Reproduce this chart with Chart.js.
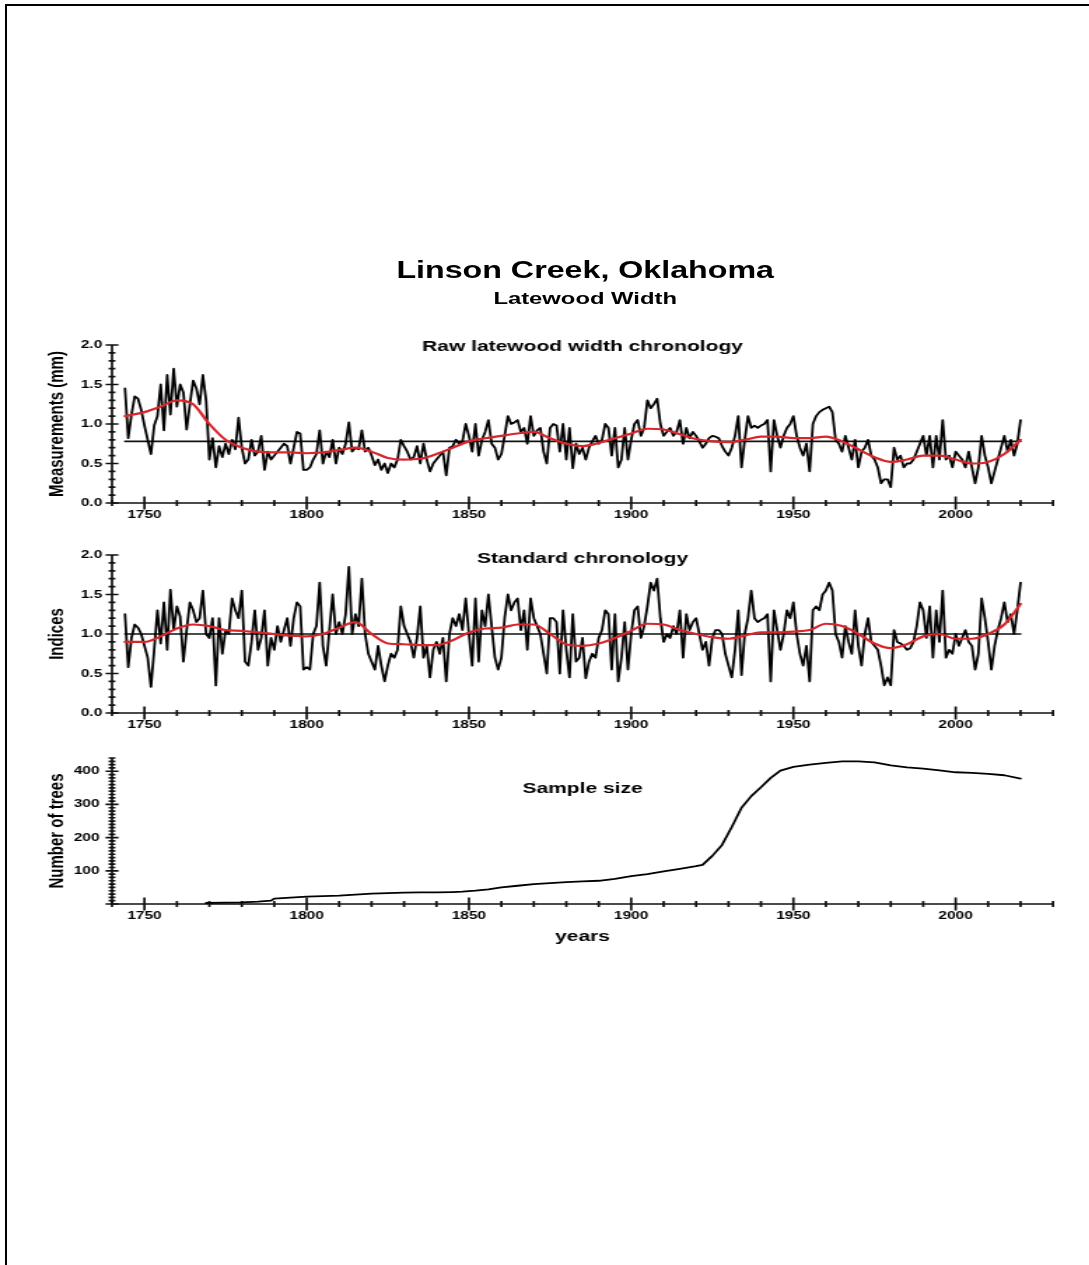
<!DOCTYPE html>
<html>
<head>
<meta charset="utf-8">
<title>Linson Creek, Oklahoma – Latewood Width</title>
<script src="https://cdn.jsdelivr.net/npm/chart.js@4.4.1/dist/chart.umd.min.js"></script>
<style>
  html, body { margin: 0; padding: 0; background: #fff; width: 1089px; height: 1265px; overflow: hidden; }
  #frame { position: absolute; left: 5px; top: 4px; width: 1100px; height: 1300px;
           border-top: 2px solid #000; border-left: 2px solid #000; }
  /* the figure is laid out on a narrower sheet and widened horizontally */
  #stage { position: absolute; left: 0; top: 0; width: 778px; height: 1265px;
           transform: scaleX(1.4); transform-origin: 0 0;
           font-family: "Liberation Sans", Arial, Helvetica, sans-serif; color: #000; }
  .title { position: absolute; left: 0; width: 836px; text-align: center; font-weight: bold; white-space: nowrap; }
  #t1 { top: 259px; font-size: 23px; line-height: 23px; }
  #t2 { top: 290px; font-size: 17px; line-height: 17px; }
  canvas { position: absolute; left: 0; }
</style>
</head>
<body>
<div id="frame"></div>
<div id="stage">
  <div class="title" id="t1">Linson Creek, Oklahoma</div>
  <div class="title" id="t2">Latewood Width</div>
  <canvas id="rawChart" width="778" height="213" style="top:320px"></canvas>
  <canvas id="stdChart" width="778" height="213" style="top:530px"></canvas>
  <canvas id="sampleChart" width="778" height="221" style="top:733px"></canvas>
</div>
<script>
// ---- data -------------------------------------------------------------
const FIRST_YEAR = 1744;            // first ring of the chronology
const X_MIN = 1740, X_MAX = 2030;   // year axis extent

// raw latewood width, mm, one value per year from 1744 to 2020
const rawWidth = [
  1.45, 0.82, 1.12, 1.35, 1.32, 1.18,
  0.98, 0.80, 0.62, 0.98, 1.10, 1.50, 0.92, 1.62, 1.12, 1.70,
  1.22, 1.50, 1.40, 0.93, 1.25, 1.55, 1.45, 1.25, 1.62, 1.30,
  0.55, 0.82, 0.45, 0.72, 0.58, 0.75, 0.62, 0.80, 0.68, 1.08,
  0.70, 0.50, 0.55, 0.80, 0.60, 0.65, 0.85, 0.42, 0.65, 0.55,
  0.60, 0.65, 0.70, 0.75, 0.72, 0.50, 0.70, 0.90, 0.88, 0.42,
  0.42, 0.45, 0.55, 0.62, 0.92, 0.50, 0.65, 0.58, 0.80, 0.50,
  0.70, 0.62, 0.75, 1.02, 0.65, 0.70, 0.68, 0.92, 0.65, 0.70,
  0.60, 0.48, 0.55, 0.42, 0.50, 0.38, 0.50, 0.45, 0.55, 0.80,
  0.72, 0.65, 0.55, 0.58, 0.72, 0.50, 0.75, 0.55, 0.40, 0.50,
  0.55, 0.60, 0.65, 0.35, 0.70, 0.72, 0.80, 0.75, 0.78, 1.00,
  0.85, 0.65, 1.00, 0.60, 0.80, 0.90, 1.05, 0.75, 0.70, 0.55,
  0.62, 0.85, 1.10, 1.00, 1.02, 1.05, 0.90, 0.95, 0.75, 1.10,
  0.85, 0.92, 0.95, 0.65, 0.50, 0.95, 1.00, 0.98, 0.65, 1.00,
  0.55, 0.95, 0.44, 0.75, 0.62, 0.70, 0.55, 0.70, 0.78, 0.85,
  0.75, 0.80, 1.00, 0.95, 0.60, 0.95, 0.45, 0.55, 0.95, 0.55,
  0.80, 1.00, 1.05, 0.85, 0.95, 1.30, 1.20, 1.25, 1.32, 1.00,
  0.85, 0.90, 0.95, 0.85, 0.90, 1.05, 0.75, 0.95, 0.82, 0.90,
  0.85, 0.78, 0.70, 0.75, 0.82, 0.85, 0.84, 0.82, 0.72, 0.65,
  0.60, 0.70, 0.85, 1.10, 0.45, 0.80, 1.10, 0.95, 0.98, 0.95,
  0.98, 1.00, 1.05, 0.40, 1.05, 0.85, 0.70, 0.85, 0.95, 1.00,
  1.10, 0.85, 0.70, 0.60, 0.75, 0.40, 1.00, 1.10, 1.15, 1.18,
  1.20, 1.22, 1.15, 0.80, 0.75, 0.65, 0.85, 0.70, 0.55, 0.80,
  0.45, 0.65, 0.70, 0.80, 0.60, 0.55, 0.45, 0.25, 0.30, 0.30,
  0.20, 0.70, 0.55, 0.60, 0.45, 0.50, 0.50, 0.55, 0.65, 0.75,
  0.85, 0.60, 0.85, 0.45, 0.85, 0.55, 1.05, 0.55, 0.60, 0.45,
  0.65, 0.60, 0.55, 0.45, 0.65, 0.45, 0.25, 0.45, 0.85, 0.60,
  0.45, 0.25, 0.40, 0.55, 0.70, 0.85, 0.65, 0.80, 0.60, 0.75,
  1.05
];
const rawMean = 0.78;

// standard chronology indices, one value per year from 1744 to 2020
const stdIndex = [
  1.25, 0.58, 0.95, 1.12, 1.08, 1.00,
  0.85, 0.70, 0.33, 0.80, 1.30, 0.88, 1.40, 0.80, 1.56, 1.05,
  1.35, 1.22, 0.65, 1.05, 1.40, 1.30, 1.15, 1.20, 1.55, 1.00,
  0.95, 1.20, 0.35, 1.20, 0.75, 1.05, 1.00, 1.45, 1.30, 1.20,
  1.55, 0.65, 0.60, 0.90, 1.30, 0.80, 0.95, 1.30, 0.60, 0.95,
  0.80, 1.10, 0.90, 1.05, 1.20, 0.85, 1.20, 1.40, 1.35, 0.55,
  0.58, 0.55, 1.00, 1.10, 1.65, 0.85, 0.60, 1.05, 1.50, 1.00,
  1.15, 1.00, 1.25, 1.85, 1.00, 1.25, 1.10, 1.70, 1.00, 0.75,
  0.65, 0.55, 0.85, 0.60, 0.40, 0.60, 0.75, 0.70, 0.80, 1.35,
  1.10, 1.00, 0.90, 0.70, 0.95, 1.35, 0.70, 0.85, 0.45, 0.80,
  0.90, 0.75, 0.95, 0.40, 1.00, 1.20, 1.10, 1.25, 1.05, 1.45,
  1.00, 0.60, 1.45, 0.65, 1.30, 1.10, 1.50, 1.10, 0.70, 0.55,
  0.70, 1.20, 1.50, 1.30, 1.40, 1.45, 1.05, 1.30, 0.80, 1.45,
  1.20, 1.10, 1.00, 0.75, 0.50, 1.20, 1.20, 1.15, 0.50, 1.30,
  0.80, 0.45, 1.25, 0.65, 0.70, 0.95, 0.44, 0.65, 0.75, 0.70,
  0.95, 1.05, 1.30, 1.25, 0.55, 1.25, 0.40, 0.70, 1.15, 0.55,
  1.00, 1.30, 1.35, 0.95, 1.10, 1.35, 1.65, 1.55, 1.70, 1.20,
  0.90, 1.00, 0.95, 1.10, 1.00, 1.30, 0.70, 1.25, 1.05, 1.15,
  1.20, 1.00, 0.80, 0.90, 0.60, 0.95, 1.05, 1.05, 1.00, 0.75,
  0.60, 0.45, 0.80, 1.30, 0.48, 1.00, 1.20, 1.55, 1.20, 1.15,
  1.18, 1.20, 1.25, 0.40, 1.30, 1.05, 0.80, 1.00, 1.30, 1.20,
  1.40, 1.00, 0.75, 0.60, 0.85, 0.40, 1.30, 1.35, 1.30, 1.50,
  1.55, 1.65, 1.55, 1.00, 0.90, 0.70, 1.10, 0.90, 0.75, 1.30,
  0.85, 0.60, 1.00, 1.20, 0.90, 0.85, 0.80, 0.60, 0.35, 0.45,
  0.35, 1.05, 0.90, 0.88, 0.85, 0.80, 0.82, 0.90, 1.10, 1.40,
  1.30, 0.95, 1.35, 0.70, 1.30, 0.90, 1.55, 0.70, 0.80, 0.75,
  1.00, 0.85, 0.95, 1.05, 0.90, 0.85, 0.55, 0.75, 1.45, 1.20,
  0.90, 0.55, 0.85, 1.05, 1.20, 1.40, 1.15, 1.25, 1.00, 1.30,
  1.65
];
const stdMean = 1.0;

// smoothing spline of both chronologies, read at five-year knots
const splineYears = [
  1744, 1750, 1755, 1760, 1765, 1770, 1775, 1780, 1785, 1790, 1795,
  1800, 1805, 1810, 1815, 1820, 1825, 1830, 1835, 1840, 1845,
  1850, 1855, 1860, 1865, 1870, 1875, 1880, 1885, 1890, 1895,
  1900, 1905, 1910, 1915, 1920, 1925, 1930, 1935, 1940, 1945,
  1950, 1955, 1960, 1965, 1970, 1975, 1980, 1985, 1990, 1995,
  2000, 2005, 2010, 2015, 2020
];
const rawSpline = [
  1.10, 1.15, 1.22, 1.30, 1.25, 1.00, 0.80, 0.70, 0.65, 0.64, 0.64,
  0.63, 0.64, 0.67, 0.70, 0.65, 0.57, 0.55, 0.56, 0.62, 0.70,
  0.78, 0.82, 0.85, 0.88, 0.90, 0.82, 0.75, 0.72, 0.76, 0.82,
  0.88, 0.94, 0.93, 0.87, 0.81, 0.78, 0.77, 0.80, 0.84, 0.84,
  0.82, 0.82, 0.84, 0.78, 0.68, 0.58, 0.52, 0.55, 0.60, 0.60,
  0.55, 0.50, 0.52, 0.62, 0.80
];
const stdSpline = [
  0.90, 0.90, 0.97, 1.07, 1.12, 1.10, 1.05, 1.04, 1.02, 1.00, 0.98,
  0.97, 1.00, 1.08, 1.15, 1.00, 0.88, 0.87, 0.86, 0.86, 0.92,
  1.02, 1.07, 1.08, 1.12, 1.12, 1.00, 0.87, 0.85, 0.88, 0.95,
  1.04, 1.13, 1.12, 1.05, 1.00, 0.96, 0.94, 0.98, 1.02, 1.02,
  1.03, 1.05, 1.13, 1.10, 1.00, 0.88, 0.82, 0.87, 0.97, 1.00,
  0.94, 0.94, 1.00, 1.12, 1.38
];

// number of trees in the chronology
const sampleYears = [
  1769, 1775, 1780, 1785, 1789, 1790, 1795, 1800, 1805, 1810,
  1815, 1820, 1825, 1830, 1835, 1840, 1845, 1848, 1852, 1856,
  1860, 1865, 1870, 1875, 1880, 1885, 1890, 1895, 1900, 1905,
  1910, 1915, 1920, 1922, 1925, 1928, 1931, 1934, 1937, 1940,
  1943, 1946, 1950, 1955, 1960, 1965, 1970, 1975, 1980, 1985,
  1990, 1995, 2000, 2005, 2010, 2015, 2020
];
const sampleTrees = [
  3, 4, 5, 7, 10, 16, 19, 22, 24, 25,
  28, 31, 33, 34, 35, 35, 36, 37, 40, 44,
  50, 55, 60, 63, 66, 68, 70, 76, 84, 90,
  98, 106, 114, 118, 145, 178, 232, 290, 325, 352,
  380, 402, 413, 420, 425, 430, 430, 427, 418, 412,
  408, 403, 397, 395, 392, 388, 378
];

// ---- drawing ----------------------------------------------------------
const FONT = '"Liberation Sans", Arial, Helvetica, sans-serif';
Chart.defaults.font.family = FONT;
Chart.defaults.color = '#000';

const LAST_YEAR = FIRST_YEAR + rawWidth.length - 1;
const yearly = arr => arr.map((v, i) => ({ x: FIRST_YEAR + i, y: v }));
const paired = (xs, ys) => xs.map((x, i) => ({ x, y: ys[i] }));
const flat = v => [{ x: FIRST_YEAR, y: v }, { x: LAST_YEAR, y: v }];

// axis lines with ticks crossing them, major ticks longer
const crossTicks = {
  id: 'crossTicks',
  beforeDatasetsDraw(chart, args, opts) {
    const { ctx, chartArea: a, scales: { x, y } } = chart;
    ctx.save();
    ctx.strokeStyle = '#111';
    ctx.lineWidth = 1.7;
    ctx.beginPath();
    ctx.moveTo(a.left, a.top);
    ctx.lineTo(a.left, a.bottom);
    ctx.lineTo(a.right, a.bottom);
    ctx.stroke();
    ctx.beginPath();
    x.ticks.forEach(t => {
      const px = x.getPixelForValue(t.value);
      const h = t.value % opts.xMajor === 0 ? 6.5 : 3;
      ctx.moveTo(px, a.bottom - h);
      ctx.lineTo(px, a.bottom + h);
    });
    y.ticks.forEach(t => {
      const py = y.getPixelForValue(t.value);
      const q = t.value / opts.yMajor;
      const w = Math.abs(q - Math.round(q)) < 1e-6 ? 4.6 : 2.4;
      ctx.moveTo(a.left - w, py);
      ctx.lineTo(a.left + w, py);
    });
    ctx.stroke();
    ctx.restore();
  }
};

// caption written inside the top of each plot area
const panelTitle = {
  id: 'panelTitle',
  afterDatasetsDraw(chart, args, opts) {
    if (!opts.text) return;
    const { ctx, chartArea: a } = chart;
    ctx.save();
    ctx.font = 'bold 15px ' + FONT;
    ctx.fillStyle = '#000';
    ctx.textAlign = 'center';
    ctx.textBaseline = 'middle';
    ctx.fillText(opts.text, (a.left + a.right) / 2, a.top + opts.dy);
    ctx.restore();
  }
};

function buildPanel(id, datasets, o) {
  return new Chart(document.getElementById(id), {
    type: 'line',
    data: { datasets },
    plugins: [crossTicks, panelTitle],
    options: {
      responsive: false,
      animation: false,
      events: [],
      layout: { padding: { top: 25, right: 25.86, bottom: 0, left: 0 } },
      elements: { point: { radius: 0 }, line: { borderJoinStyle: 'round', borderCapStyle: 'round' } },
      plugins: {
        legend: { display: false },
        tooltip: { enabled: false },
        crossTicks: { xMajor: 50, yMajor: o.yMajor },
        panelTitle: { text: o.title, dy: o.titleDy }
      },
      scales: {
        x: {
          type: 'linear', min: X_MIN, max: X_MAX,
          grid: { display: false, drawTicks: false },
          border: { display: false },
          ticks: {
            stepSize: 10, autoSkip: false, maxRotation: 0, minRotation: 0, padding: 5,
            font: { size: 11, weight: 'bold' },
            callback: v => (v % 50 === 0 ? String(v) : '')
          },
          title: o.xTitle
            ? { display: true, text: o.xTitle, font: { size: 15, weight: 'bold' }, padding: { top: 0, bottom: 8 } }
            : { display: false },
          afterFit: s => { s.height = o.xHeight; }
        },
        y: {
          type: 'linear', min: o.yMin, max: o.yMax,
          grid: { display: false, drawTicks: false },
          border: { display: false },
          ticks: {
            stepSize: o.yStep, autoSkip: false, padding: o.yPad,
            font: { size: 11, weight: 'bold' },
            callback: o.yLabel
          },
          title: { display: true, text: o.yTitle, font: { size: 15, weight: 'bold' }, padding: { top: 32, bottom: 0 } },
          afterFit: s => { s.width = 80; }
        }
      }
    }
  });
}

const halfLabel = v => (Math.abs(v * 2 - Math.round(v * 2)) < 1e-6 ? v.toFixed(1) : '');
const RED = '#d8262b';

buildPanel('rawChart', [
  { data: paired(splineYears, rawSpline), borderColor: RED, borderWidth: 2.2, cubicInterpolationMode: 'monotone' },
  { data: yearly(rawWidth), borderColor: '#000', borderWidth: 1.8, tension: 0 },
  { data: flat(rawMean), borderColor: '#111', borderWidth: 1.6 }
], { yMin: 0, yMax: 2, yStep: 0.1, yMajor: 0.5, yPad: 7, yLabel: halfLabel,
     yTitle: 'Measurements (mm)', title: 'Raw latewood width chronology', titleDy: 2, xHeight: 30 });

buildPanel('stdChart', [
  { data: paired(splineYears, stdSpline), borderColor: RED, borderWidth: 2.2, cubicInterpolationMode: 'monotone' },
  { data: yearly(stdIndex), borderColor: '#000', borderWidth: 1.8, tension: 0 },
  { data: flat(stdMean), borderColor: '#111', borderWidth: 1.6 }
], { yMin: 0, yMax: 2, yStep: 0.1, yMajor: 0.5, yPad: 7, yLabel: halfLabel,
     yTitle: 'Indices', title: 'Standard chronology', titleDy: 4, xHeight: 30 });

buildPanel('sampleChart', [
  { data: paired(sampleYears, sampleTrees), borderColor: '#000', borderWidth: 1.8, tension: 0 }
], { yMin: 0, yMax: 440, yStep: 10, yMajor: 100, yPad: 9,
     yLabel: v => (v > 0 && v % 100 === 0 ? String(v) : ''),
     yTitle: 'Number of trees', title: 'Sample size', titleDy: 31, xTitle: 'years', xHeight: 50 });
</script>
</body>
</html>
